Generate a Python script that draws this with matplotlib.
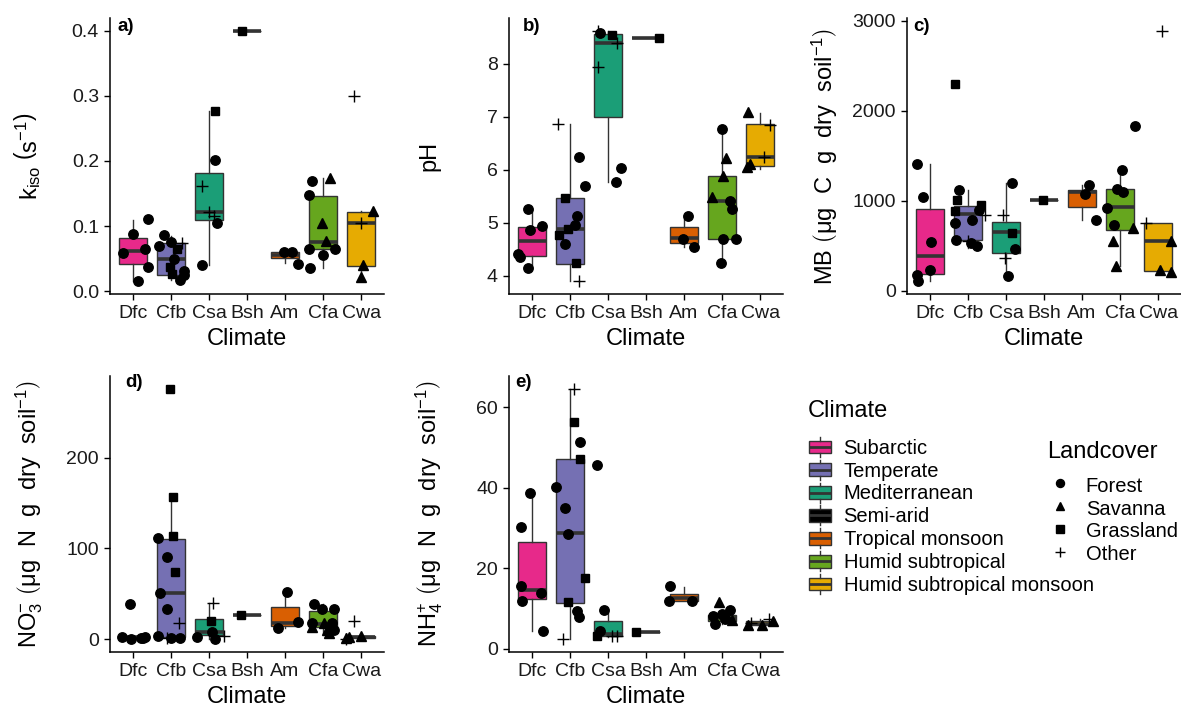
import matplotlib
matplotlib.use('Agg')
import matplotlib.pyplot as plt
from matplotlib.patches import Rectangle, Patch
from matplotlib.lines import Line2D
from matplotlib.legend_handler import HandlerBase

plt.rcParams['font.family'] = ['Liberation Sans', 'DejaVu Sans']
plt.rcParams['mathtext.fontset'] = 'custom'
plt.rcParams['mathtext.rm'] = 'Liberation Sans'
plt.rcParams['mathtext.it'] = 'Liberation Sans:italic'
plt.rcParams['mathtext.bf'] = 'Liberation Sans:bold'

climates = ['Dfc', 'Cfb', 'Csa', 'Bsh', 'Am', 'Cfa', 'Cwa']
climate_names = ['Subarctic', 'Temperate', 'Mediterranean', 'Semi-arid',
                 'Tropical monsoon', 'Humid subtropical', 'Humid subtropical monsoon']
colors = ['#E7298A', '#7570B3', '#1B9E77', '#000000', '#D95F02', '#66A61E', '#E6AB02']
landcovers = ['Forest', 'Savanna', 'Grassland', 'Other']
lc_codes = ['F', 'S', 'G', 'O']

# box stats per climate: (whisker low, q1, median, q3, whisker high)
# points: (climate, value, landcover); jitter lists follow the same order

kiso_box = [(0.015, 0.042, 0.062, 0.082, 0.110), (0.017, 0.025, 0.050, 0.074, 0.084),
            (0.041, 0.110, 0.121, 0.181, 0.276), (0.400, 0.400, 0.400, 0.400, 0.400),
            (0.043, 0.051, 0.055, 0.060, 0.060), (0.036, 0.065, 0.075, 0.146, 0.174),
            (0.022, 0.038, 0.105, 0.121, 0.123)]
kiso_pts = [('Dfc', 0.058, 'F'), ('Dfc', 0.088, 'F'), ('Dfc', 0.065, 'F'), ('Dfc', 0.111, 'F'), ('Dfc', 0.037, 'F'), ('Dfc', 0.015, 'F'),
            ('Cfb', 0.086, 'F'), ('Cfb', 0.070, 'F'), ('Cfb', 0.075, 'F'), ('Cfb', 0.074, 'O'), ('Cfb', 0.065, 'G'), ('Cfb', 0.050, 'F'),
            ('Cfb', 0.037, 'G'), ('Cfb', 0.026, 'G'), ('Cfb', 0.031, 'F'), ('Cfb', 0.025, 'F'), ('Cfb', 0.017, 'F'),
            ('Csa', 0.276, 'G'), ('Csa', 0.201, 'F'), ('Csa', 0.162, 'O'), ('Csa', 0.121, 'O'), ('Csa', 0.115, 'O'), ('Csa', 0.105, 'F'), ('Csa', 0.041, 'F'),
            ('Bsh', 0.400, 'G'),
            ('Am', 0.060, 'F'), ('Am', 0.060, 'F'), ('Am', 0.042, 'F'),
            ('Cfa', 0.169, 'F'), ('Cfa', 0.147, 'F'), ('Cfa', 0.174, 'S'), ('Cfa', 0.105, 'S'), ('Cfa', 0.077, 'S'), ('Cfa', 0.065, 'F'),
            ('Cfa', 0.065, 'F'), ('Cfa', 0.055, 'F'), ('Cfa', 0.036, 'F'),
            ('Cwa', 0.300, 'O'), ('Cwa', 0.105, 'O'), ('Cwa', 0.123, 'S'), ('Cwa', 0.041, 'S'), ('Cwa', 0.022, 'S')]
kiso_jit = [-0.26, 0.0, 0.32, 0.40, 0.39, 0.13,
            -0.18, -0.31, 0.0, 0.28, 0.15, 0.08,
            -0.02, 0.02, 0.35, 0.34, 0.25,
            0.15, 0.15, -0.19, 0.0, 0.13, 0.22, -0.18,
            -0.14,
            -0.02, 0.17, 0.35,
            -0.28, -0.38, 0.18, -0.02, 0.07, -0.38,
            0.31, 0.01, -0.34,
            -0.20, 0.0, 0.31, 0.05, 0.0]

ph_box = [(4.15, 4.37, 4.65, 4.91, 5.25), (3.89, 4.22, 4.89, 5.46, 6.86),
          (5.76, 6.99, 8.39, 8.57, 8.63), (8.49, 8.49, 8.49, 8.49, 8.49),
          (4.54, 4.61, 4.71, 4.91, 5.13), (4.23, 4.69, 5.41, 5.88, 6.77),
          (6.02, 6.08, 6.25, 6.87, 7.07)]
ph_pts = [('Dfc', 5.25, 'F'), ('Dfc', 4.86, 'F'), ('Dfc', 4.93, 'F'), ('Dfc', 4.41, 'F'), ('Dfc', 4.36, 'F'), ('Dfc', 4.15, 'F'),
          ('Cfb', 6.86, 'O'), ('Cfb', 6.25, 'F'), ('Cfb', 5.70, 'F'), ('Cfb', 5.46, 'G'), ('Cfb', 5.13, 'F'), ('Cfb', 4.96, 'F'),
          ('Cfb', 4.89, 'G'), ('Cfb', 4.77, 'G'), ('Cfb', 4.60, 'F'), ('Cfb', 4.23, 'G'), ('Cfb', 3.89, 'O'),
          ('Csa', 8.63, 'O'), ('Csa', 8.59, 'F'), ('Csa', 8.54, 'G'), ('Csa', 8.39, 'O'), ('Csa', 7.94, 'O'), ('Csa', 5.76, 'F'), ('Csa', 6.03, 'F'),
          ('Bsh', 8.49, 'G'),
          ('Am', 5.13, 'F'), ('Am', 4.69, 'F'), ('Am', 4.54, 'F'),
          ('Cfa', 6.77, 'F'), ('Cfa', 6.23, 'S'), ('Cfa', 5.89, 'S'), ('Cfa', 5.48, 'S'), ('Cfa', 5.41, 'F'), ('Cfa', 5.25, 'F'),
          ('Cfa', 4.69, 'F'), ('Cfa', 4.69, 'F'), ('Cfa', 4.23, 'F'),
          ('Cwa', 7.10, 'S'), ('Cwa', 6.85, 'O'), ('Cwa', 6.25, 'O'), ('Cwa', 6.11, 'S'), ('Cwa', 6.06, 'S')]
ph_jit = [-0.11, -0.06, 0.26, -0.37, -0.32, -0.09,
          -0.32, 0.23, 0.40, -0.14, 0.18, 0.14,
          -0.05, -0.28, -0.12, 0.17, 0.25,
          -0.27, -0.20, 0.10, 0.24, -0.27, 0.22, 0.35,
          0.35,
          0.11, -0.04, 0.27,
          0.01, 0.10, 0.02, -0.27, 0.21, 0.25,
          0.03, 0.37, -0.04,
          -0.31, 0.26, 0.09, -0.28, -0.35]

mb_box = [(104, 186, 390, 910, 1404), (480, 561, 850, 947, 1114),
          (159, 420, 652, 765, 1200), (1010, 1010, 1010, 1010, 1010),
          (783, 932, 1099, 1114, 1170), (271, 680, 928, 1125, 1340),
          (208, 223, 550, 754, 754)]
mb_pts = [('Dfc', 1404, 'F'), ('Dfc', 1040, 'F'), ('Dfc', 542, 'F'), ('Dfc', 234, 'F'), ('Dfc', 171, 'F'), ('Dfc', 104, 'F'),
          ('Cfb', 2295, 'G'), ('Cfb', 1117, 'F'), ('Cfb', 1006, 'G'), ('Cfb', 891, 'G'), ('Cfb', 754, 'F'), ('Cfb', 568, 'F'),
          ('Cfb', 958, 'G'), ('Cfb', 894, 'F'), ('Cfb', 783, 'F'), ('Cfb', 847, 'O'), ('Cfb', 531, 'F'), ('Cfb', 501, 'F'), ('Cfb', 549, 'O'),
          ('Csa', 847, 'O'), ('Csa', 1200, 'F'), ('Csa', 643, 'G'), ('Csa', 468, 'F'), ('Csa', 364, 'O'), ('Csa', 159, 'F'),
          ('Bsh', 1010, 'G'),
          ('Am', 1170, 'F'), ('Am', 1080, 'F'), ('Am', 783, 'F'),
          ('Cfa', 1831, 'F'), ('Cfa', 1340, 'F'), ('Cfa', 1133, 'F'), ('Cfa', 1099, 'F'), ('Cfa', 921, 'F'), ('Cfa', 728, 'F'),
          ('Cfa', 698, 'S'), ('Cfa', 550, 'S'), ('Cfa', 271, 'S'),
          ('Cwa', 2889, 'O'), ('Cwa', 754, 'O'), ('Cwa', 557, 'S'), ('Cwa', 234, 'S'), ('Cwa', 208, 'S')]
mb_jit = [-0.33, -0.19, 0.03, 0.0, -0.35, -0.31,
          -0.34, -0.23, -0.28, -0.34, -0.34, -0.32,
          0.34, 0.29, 0.11, 0.45, 0.07, 0.23, 0.0,
          -0.07, 0.15, 0.15, 0.24, -0.03, 0.06,
          -0.03,
          0.18, 0.09, 0.36,
          0.40, 0.05, -0.07, 0.08, -0.34, -0.16,
          0.34, -0.20, -0.12,
          0.10, -0.31, 0.35, 0.04, 0.33]

no3_box = [(1.8, 1.8, 2.35, 2.9, 2.9), (1.1, 2.9, 51.3, 110, 156.8),
           (0.4, 4.8, 8.4, 22.3, 39.6), (26.7, 26.7, 26.7, 26.7, 26.7),
           (12.1, 14.7, 17.6, 35.2, 52.4), (7.3, 13.2, 16.8, 31.5, 38.8),
           (0.0, 1.5, 2.5, 3.5, 4.0)]
no3_pts = [('Dfc', 2.9, 'F'), ('Dfc', 0.0, 'F'), ('Dfc', 1.8, 'F'), ('Dfc', 2.9, 'F'), ('Dfc', 1.8, 'F'), ('Dfc', 38.8, 'F'),
           ('Cfb', 275.8, 'G'), ('Cfb', 156.8, 'G'), ('Cfb', 113.9, 'G'), ('Cfb', 111.0, 'F'), ('Cfb', 90.8, 'F'), ('Cfb', 74.4, 'G'),
           ('Cfb', 51.6, 'F'), ('Cfb', 34.0, 'F'), ('Cfb', 17.6, 'O'), ('Cfb', 4.0, 'F'), ('Cfb', 1.1, 'O'), ('Cfb', 1.1, 'F'), ('Cfb', 1.1, 'F'),
           ('Csa', 40.3, 'O'), ('Csa', 20.1, 'G'), ('Csa', 8.4, 'F'), ('Csa', 2.9, 'F'), ('Csa', 0.4, 'F'), ('Csa', 4.0, 'O'),
           ('Bsh', 26.7, 'G'),
           ('Am', 52.4, 'F'), ('Am', 19.4, 'F'), ('Am', 12.1, 'F'),
           ('Cfa', 38.8, 'F'), ('Cfa', 33.0, 'F'), ('Cfa', 34.0, 'F'), ('Cfa', 17.6, 'F'), ('Cfa', 17.6, 'F'), ('Cfa', 10.0, 'F'),
           ('Cfa', 13.2, 'S'), ('Cfa', 17.6, 'S'), ('Cfa', 15.5, 'S'), ('Cfa', 7.3, 'S'), ('Cfa', 10.5, 'S'),
           ('Cwa', 20.5, 'O'), ('Cwa', 1.8, 'S'), ('Cwa', 2.9, 'S'), ('Cwa', 4.0, 'S'), ('Cwa', 0.0, 'O')]
no3_jit = [-0.28, -0.04, 0.22, 0.32, 0.26, -0.07,
           -0.03, 0.06, 0.06, -0.35, -0.11, 0.11,
           -0.29, -0.10, 0.22, -0.35, -0.09, 0.0, 0.25,
           0.10, 0.06, 0.09, -0.31, 0.17, 0.39,
           -0.16,
           0.05, 0.35, -0.19,
           -0.24, -0.04, 0.29, -0.30, 0.24, 0.29,
           -0.30, 0.03, 0.20, 0.16, 0.10,
           -0.18, -0.40, -0.31, 0.0, -0.40]

nh4_box = [(4.5, 12.4, 14.7, 26.5, 38.7), (2.3, 11.4, 28.7, 47.1, 64.7),
           (3.0, 3.2, 3.6, 7.0, 9.6), (4.1, 4.1, 4.1, 4.1, 4.1),
           (11.8, 11.8, 12.5, 13.6, 15.4), (6.2, 6.8, 7.6, 8.4, 9.7),
           (5.9, 5.9, 6.2, 6.9, 7.4)]
nh4_pts = [('Dfc', 38.6, 'F'), ('Dfc', 30.2, 'F'), ('Dfc', 15.5, 'F'), ('Dfc', 11.9, 'F'), ('Dfc', 13.8, 'F'), ('Dfc', 4.5, 'F'),
           ('Cfb', 64.7, 'O'), ('Cfb', 56.4, 'G'), ('Cfb', 51.5, 'F'), ('Cfb', 47.1, 'G'), ('Cfb', 40.2, 'F'), ('Cfb', 35.0, 'F'),
           ('Cfb', 28.6, 'F'), ('Cfb', 17.7, 'G'), ('Cfb', 11.5, 'G'), ('Cfb', 9.5, 'F'), ('Cfb', 7.8, 'F'), ('Cfb', 2.3, 'O'),
           ('Csa', 45.7, 'F'), ('Csa', 9.6, 'F'), ('Csa', 4.5, 'F'), ('Csa', 3.1, 'G'), ('Csa', 3.1, 'O'), ('Csa', 3.1, 'O'),
           ('Bsh', 4.1, 'G'),
           ('Am', 15.7, 'F'), ('Am', 11.9, 'F'), ('Am', 11.8, 'F'),
           ('Cfa', 11.5, 'S'), ('Cfa', 8.2, 'F'), ('Cfa', 6.2, 'F'), ('Cfa', 8.6, 'F'), ('Cfa', 9.6, 'F'), ('Cfa', 7.4, 'F'),
           ('Cfa', 7.2, 'S'), ('Cfa', 7.9, 'S'),
           ('Cwa', 5.9, 'S'), ('Cwa', 5.9, 'S'), ('Cwa', 7.0, 'S'), ('Cwa', 7.4, 'O'), ('Cwa', 6.4, 'O')]
nh4_jit = [-0.04, -0.29, -0.29, -0.26, 0.24, 0.29,
           0.10, 0.12, 0.27, 0.27, -0.36, -0.12,
           -0.04, 0.40, -0.04, 0.18, 0.25, -0.17,
           -0.29, -0.11, -0.20, -0.30, 0.10, 0.25,
           -0.26,
           -0.37, -0.39, 0.20,
           -0.07, -0.23, -0.20, 0.0, 0.21, 0.08,
           0.25, 0.12,
           -0.31, 0.04, 0.33, 0.22, -0.23]

markers = {'F': ('o', 6.8), 'S': ('^', 7.4), 'G': ('s', 6.2), 'O': ('+', 8.8)}
EDGE = '#333333'
W, H = 1181, 706


def px_rect(left, top, right, bottom):
    return [left / W, 1 - bottom / H, (right - left) / W, (bottom - top) / H]


def draw_panel(ax, pts, jit, box, ylabel, yticks, yticklabels, labx):
    stats = [dict(whislo=b[0], q1=b[1], med=b[2], q3=b[3], whishi=b[4]) for b in box]
    res = ax.bxp(stats, positions=range(len(climates)), widths=0.75, patch_artist=True,
                 showfliers=False, showcaps=False,
                 boxprops=dict(edgecolor=EDGE, linewidth=1.0),
                 medianprops=dict(color=EDGE, linewidth=2.6, solid_capstyle='butt'),
                 whiskerprops=dict(color=EDGE, linewidth=1.0))
    for patch, c in zip(res['boxes'], colors):
        patch.set_facecolor(c)
    for code in lc_codes:
        sel = [i for i, p in enumerate(pts) if p[2] == code]
        xs = [climates.index(pts[i][0]) + jit[i] for i in sel]
        ys = [pts[i][1] for i in sel]
        mk, ms = markers[code]
        ax.plot(xs, ys, ls='none', marker=mk, ms=ms, color='black', mew=1.0, zorder=4)
    ax.set_xlim(-0.6, 6.6)
    ax.set_xticks(range(len(climates)))
    ax.set_xticklabels(climates)
    ax.set_yticks(yticks)
    ax.set_yticklabels(yticklabels)
    ax.spines['top'].set_visible(False)
    ax.spines['right'].set_visible(False)
    ax.spines['left'].set_linewidth(1.1)
    ax.spines['bottom'].set_linewidth(1.1)
    ax.tick_params(length=4.5, width=1.0, labelsize=14, labelcolor='#1a1a1a', pad=3.5)
    ax.set_xlabel('Climate', fontsize=17, labelpad=4)
    ax.set_ylabel(ylabel, fontsize=17)
    ax.yaxis.set_label_coords(labx, 0.5)


fig = plt.figure(figsize=(W / 100, H / 100), dpi=100)

unit = r'\left(\mathrm{\mu g\ \ %s\ \ g\ \ dry\ \ soil^{-1}}\right)'

ax_a = fig.add_axes(px_rect(110, 18, 384, 294))
draw_panel(ax_a, kiso_pts, kiso_jit, kiso_box,
           r'$\mathrm{k_{iso}}\ \left(\mathrm{s^{-1}}\right)$',
           [0, 0.1, 0.2, 0.3, 0.4], ['0.0', '0.1', '0.2', '0.3', '0.4'], -0.245)

ax_b = fig.add_axes(px_rect(509, 18, 783, 294))
draw_panel(ax_b, ph_pts, ph_jit, ph_box, 'pH',
           [4, 5, 6, 7, 8], ['4', '5', '6', '7', '8'], -0.25)

ax_c = fig.add_axes(px_rect(907, 18, 1181, 294))
draw_panel(ax_c, mb_pts, mb_jit, mb_box, r'$\mathrm{MB}\ ' + unit % 'C' + '$',
           [0, 1000, 2000, 3000], ['0', '1000', '2000', '3000'], -0.245)

ax_d = fig.add_axes(px_rect(110, 376, 384, 652))
draw_panel(ax_d, no3_pts, no3_jit, no3_box, r'$\mathrm{NO_3^{-}}\ ' + unit % 'N' + '$',
           [0, 100, 200], ['0', '100', '200'], -0.237)

ax_e = fig.add_axes(px_rect(509, 376, 783, 652))
draw_panel(ax_e, nh4_pts, nh4_jit, nh4_box, r'$\mathrm{NH_4^{+}}\ ' + unit % 'N' + '$',
           [0, 20, 40, 60], ['0', '20', '40', '60'], -0.234)

for tag, x, y in [('a)', 117, 18), ('b)', 523, 18), ('c)', 913, 18), ('d)', 125, 374), ('e)', 515, 374)]:
    fig.text(x / W, 1 - y / H, tag, fontsize=13.5, fontweight='bold', ha='left', va='top')


class BoxKey(HandlerBase):
    def create_artists(self, legend, orig_handle, xdescent, ydescent, width, height, fontsize, trans):
        x0, y0 = -xdescent, -ydescent
        bh = height * 0.64
        by = y0 + (height - bh) / 2
        cx = x0 + width / 2
        rect = Rectangle((x0, by), width, bh, facecolor=orig_handle.get_facecolor(),
                         edgecolor=EDGE, lw=1.0, transform=trans)
        med = Line2D([x0, x0 + width], [y0 + height / 2] * 2, color=EDGE, lw=2.0,
                     solid_capstyle='butt', transform=trans)
        w1 = Line2D([cx, cx], [y0, by], color=EDGE, lw=1.0, transform=trans)
        w2 = Line2D([cx, cx], [by + bh, y0 + height], color=EDGE, lw=1.0, transform=trans)
        return [rect, med, w1, w2]


clim_handles = [Patch(facecolor=c) for c in colors]
fig.text(808 / W, 1 - 411 / H, 'Climate', fontsize=17, va='center', ha='left')
fig.legend(clim_handles, climate_names, handler_map={Patch: BoxKey()},
           loc='upper left', bbox_to_anchor=(809 / W, 1 - 437 / H), frameon=False,
           fontsize=14.5, handlelength=1.07, handleheight=1.15, labelspacing=0.1,
           handletextpad=0.65, borderpad=0, borderaxespad=0)

lc_handles = [Line2D([], [], ls='none', marker=markers[c][0], ms=markers[c][1] * 0.85,
                     color='black', mew=1.0) for c in lc_codes]
fig.text(1047 / W, 1 - 452 / H, 'Landcover', fontsize=17, va='center', ha='left')
fig.legend(lc_handles, landcovers, loc='upper left', bbox_to_anchor=(1049 / W, 1 - 475 / H),
           frameon=False, fontsize=14.5, handlelength=1.07, handleheight=1.15, labelspacing=0.1,
           handletextpad=0.75, borderpad=0, borderaxespad=0)

fig.savefig('out.png', dpi=100)
